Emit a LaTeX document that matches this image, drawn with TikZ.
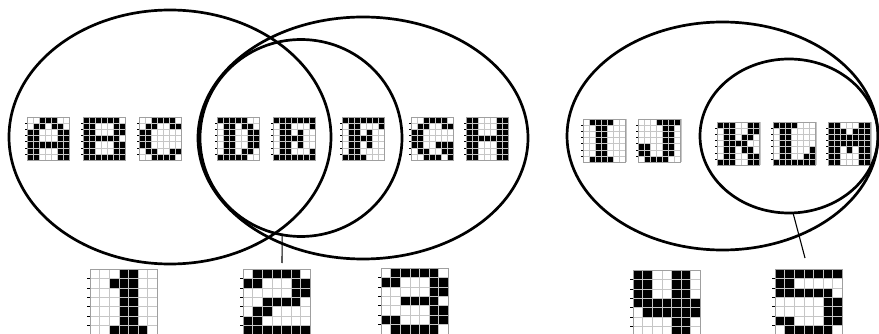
\documentclass[tikz,border=0pt]{standalone}
\usetikzlibrary{shapes.geometric}
\newcount\bmcol
\def\bmparse#1{%
  \ifx#1.%
  \else
    \ifx#11%
      \fill[black] (\the\bmcol*\bmw,\bmr*\bmh) rectangle ++(\bmw,\bmh);%
    \fi
    \advance\bmcol by 1\relax
    \expandafter\bmparse
  \fi}
\newcommand\glyph[6]{%
  \begin{scope}[shift={(#2,#3)}]
    \def\bmw{#4}\def\bmh{#5}%
    \foreach \row [count=\bmr from 0] in {#6} {%
      \bmcol=0 \expandafter\bmparse\row.%
    }
    \foreach \i in {0,...,7} {%
      \draw[gridln] (\i*\bmw,0) -- (\i*\bmw,7*\bmh);
      \draw[gridln] (0,\i*\bmh) -- (7*\bmw,\i*\bmh);}
    \draw[gridframe] (0,0) rectangle (7*\bmw,7*\bmh);
    \foreach \i in {1,...,6} \draw[gtick] (-0.3*\bmw,\i*\bmh) -- (0,\i*\bmh);
    \coordinate (#1) at (3.5*\bmw,3.5*\bmh);
  \end{scope}}
\tikzset{
  gridln/.style={gray!45,line width=0.35pt},
  gridframe/.style={gray!75,line width=0.5pt},
  gtick/.style={black,line width=0.4pt},
  ring/.style={draw=black,ellipse,line width=2.7pt,inner sep=0pt,outer sep=0pt},
  pointer/.style={draw=black,line width=1.1pt}
}
\begin{document}
\begin{tikzpicture}[x=1pt,y=-1pt]
\useasboundingbox (0,0) rectangle (879,334);
\fill[white] (0,0) rectangle (879,334);
% letters, left group
\def\lw{6}\def\lh{6.15}
\glyph{gA}{27}{117}{\lw}{\lh}{0011100,0110110,1100011,1100011,1111111,1100011,1100011}
\glyph{gB}{83}{117}{\lw}{\lh}{1111110,1100011,1100011,1111110,1100011,1100011,1111111}
\glyph{gC}{139}{117}{\lw}{\lh}{0011110,0110011,1100000,1100000,1100000,0110011,0011110}
\glyph{gD}{217}{117}{\lw}{\lh}{1111100,0110110,0110011,0110011,0110011,0110110,1111100}
\glyph{gE}{273}{117}{\lw}{\lh}{1111111,0110001,0110100,0111100,0110100,0110001,1111111}
\glyph{gF}{342}{117}{\lw}{\lh}{1111111,0110001,0110100,0111100,0110100,0110000,1111000}
\glyph{gG}{411}{117}{\lw}{\lh}{0011110,0110011,1100000,1100000,1100111,0110011,0011101}
\glyph{gH}{466}{117}{\lw}{\lh}{1100011,1100011,1100011,1111111,1100011,1100011,1100011}
% letters, right group
\glyph{gI}{583}{119}{6.1}{\lh}{0111100,0011000,0011000,0011000,0011000,0011000,0111100}
\glyph{gJ}{638}{119}{6.1}{\lh}{0001111,0000110,0000110,0000110,1100110,1100110,0111100}
\glyph{gK}{717}{122}{6.1}{\lh}{1110011,0110011,0110110,0111100,0110110,0110011,1110011}
\glyph{gL}{773}{122}{6.1}{\lh}{1111000,0110000,0110000,0110000,0110001,0110011,1111111}
\glyph{gM}{828}{122}{6.1}{\lh}{1100011,1110111,1111111,1111111,1101011,1100011,1100011}
% digits
\def\dw{9.6}\def\dh{9.4}
\glyph{d1}{90}{269}{\dw}{\dh}{0001100,0011100,0001100,0001100,0001100,0001100,0011110}
\glyph{d2}{243}{269}{\dw}{\dh}{0111110,1100011,0000011,0011110,0110000,1100000,1111111}
\glyph{d3}{381}{268}{\dw}{\dh}{0111110,1100011,0000011,0011110,0000011,1100011,0111110}
\glyph{d4}{633}{270}{\dw}{\dh}{1100110,1100110,1100110,1111111,0111111,0000110,0000110}
\glyph{d5}{775}{269}{\dw}{\dh}{1111111,1100000,1111110,0000011,0000011,1100011,0111110}
% sets
\node[ring,minimum width=322pt,minimum height=254pt] (eL) at (170,137) {};
\node[ring,minimum width=202pt,minimum height=197pt] (eC) at (301,138) {};
\node[ring,minimum width=330pt,minimum height=242pt] (eR) at (363,138) {};
\node[ring,minimum width=311pt,minimum height=228pt] (eB) at (722.5,136) {};
\node[ring,minimum width=178pt,minimum height=154pt] (eS) at (789,136) {};
% pointers
\coordinate (t2) at (282,263);
\coordinate (t5) at (805,258);
\draw[pointer] (eC.259) -- (t2);
\draw[pointer] (eS.273) -- (t5);
\end{tikzpicture}
\end{document}
